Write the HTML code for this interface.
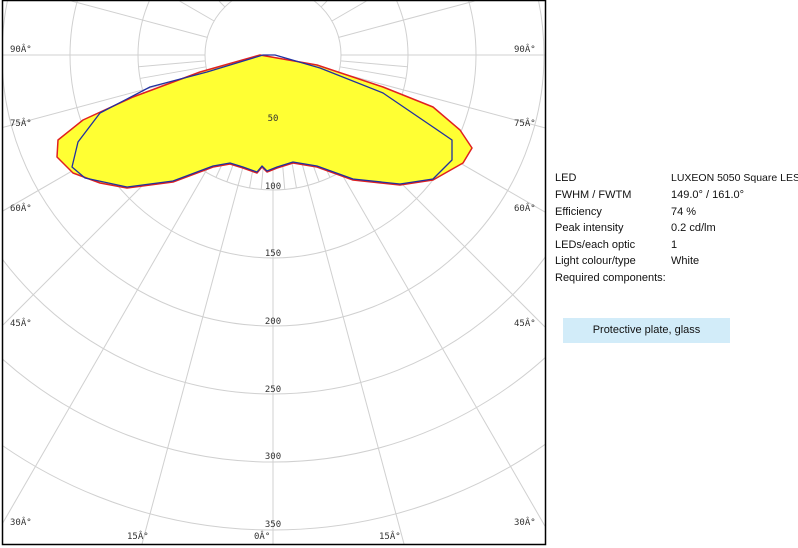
<!DOCTYPE html>
<html><head><meta charset="utf-8"><style>
html,body{margin:0;background:#fff;width:798px;height:548px;overflow:hidden;font-family:"Liberation Sans",sans-serif}
.r{position:absolute;font-size:11px;color:#111;white-space:nowrap}
svg{display:block;overflow:hidden}
</style></head><body>
<svg width="798" height="548" style="position:absolute;left:0;top:0">
<defs><clipPath id="c"><rect x="3" y="1" width="542" height="543"/></clipPath></defs>
<g clip-path="url(#c)" stroke="#d0d0d0" fill="none" stroke-width="1">
<circle cx="273" cy="55" r="68"/><circle cx="273" cy="55" r="135"/><circle cx="273" cy="55" r="203"/>
<circle cx="273" cy="55" r="271"/><circle cx="273" cy="55" r="339"/><circle cx="273" cy="55" r="407"/><circle cx="273" cy="55" r="475"/>
<g id="lines"></g>
</g>
<g clip-path="url(#c)">
<path d="M260,55 L200,72 L133,97 L83,120 L58,140 L57,157 L73,173 L100,183 L127,188 L173,182 L213,167 L230,164 L243,168 L257,173 L262,167 L267,172 L277,168 L293,163 L317,167 L353,180 L400,185 L433,180 L463,163 L472,148 L460,130 L433,107 L383,87 L317,65 Z" fill="#ffff33" stroke="#e02020" stroke-width="1.5" stroke-linejoin="round"/>
<path d="M263,55 L207,72 L150,87 L100,113 L78,142 L72,167 L85,178 L127,187 L173,181 L213,166 L230,163 L243,167 L257,172 L262,166 L267,171 L277,167 L293,162 L317,166 L353,179 L400,184 L433,179 L452,160 L452,140 L433,127 L383,93 L320,68 L275,55 Z" fill="none" stroke="#2030a0" stroke-width="1.3" stroke-linejoin="round"/>
</g>
<rect x="2.5" y="0.5" width="543" height="544" fill="none" stroke="#000" stroke-width="1.5"/>
<g font-family="DejaVu Sans Mono,Liberation Mono,monospace" font-size="9" fill="#333">
<text x="10" y="52">90Â°</text><text x="514" y="52">90Â°</text>
<text x="10" y="126">75Â°</text><text x="514" y="126">75Â°</text>
<text x="10" y="211">60Â°</text><text x="514" y="211">60Â°</text>
<text x="10" y="326">45Â°</text><text x="514" y="326">45Â°</text>
<text x="10" y="525">30Â°</text><text x="514" y="525">30Â°</text>
<text x="127" y="539">15Â°</text><text x="379" y="539">15Â°</text><text x="254" y="539">0Â°</text>
<g text-anchor="middle"><text x="273" y="121">50</text><text x="273" y="189">100</text><text x="273" y="256">150</text><text x="273" y="324">200</text><text x="273" y="392">250</text><text x="273" y="459">300</text><text x="273" y="527">350</text></g>
</g>
</svg>
<div class="r" style="left:555px;top:172px">LED</div><div class="r" style="left:671px;top:172px;font-size:10.5px">LUXEON 5050 Square LES</div>
<div class="r" style="left:555px;top:189px">FWHM / FWTM</div><div class="r" style="left:671px;top:189px">149.0° / 161.0°</div>
<div class="r" style="left:555px;top:206px">Efficiency</div><div class="r" style="left:671px;top:206px">74 %</div>
<div class="r" style="left:555px;top:222px">Peak intensity</div><div class="r" style="left:671px;top:222px">0.2 cd/lm</div>
<div class="r" style="left:555px;top:239px">LEDs/each optic</div><div class="r" style="left:671px;top:239px">1</div>
<div class="r" style="left:555px;top:255px">Light colour/type</div><div class="r" style="left:671px;top:255px">White</div>
<div class="r" style="left:555px;top:272px">Required components:</div>
<div class="r" style="left:563px;top:318px;width:167px;height:25px;background:#d2ecf9;text-align:center;line-height:25px">Protective plate, glass</div>
<script>
var g=document.getElementById('lines'),s='';
for(var a=0;a<360;a+=5){var rad=a*Math.PI/180,c=Math.cos(rad),n=Math.sin(rad);
if(a%15!=0&&c<=0.01)continue;
var r0=68,r1=135;
if(a%15==0){var tx=Math.abs(n)>1e-6?(n>0?(545-273)/n:(3-273)/n):1e9;var ty=c>1e-6?(544-55)/c:(c<-1e-6?(1-55)/c:1e9);r1=Math.min(tx,ty);}
s+='<line x1="'+(273+r0*n)+'" y1="'+(55+r0*c)+'" x2="'+(273+r1*n)+'" y2="'+(55+r1*c)+'"/>';}
g.innerHTML=s;
</script>
</body></html>
